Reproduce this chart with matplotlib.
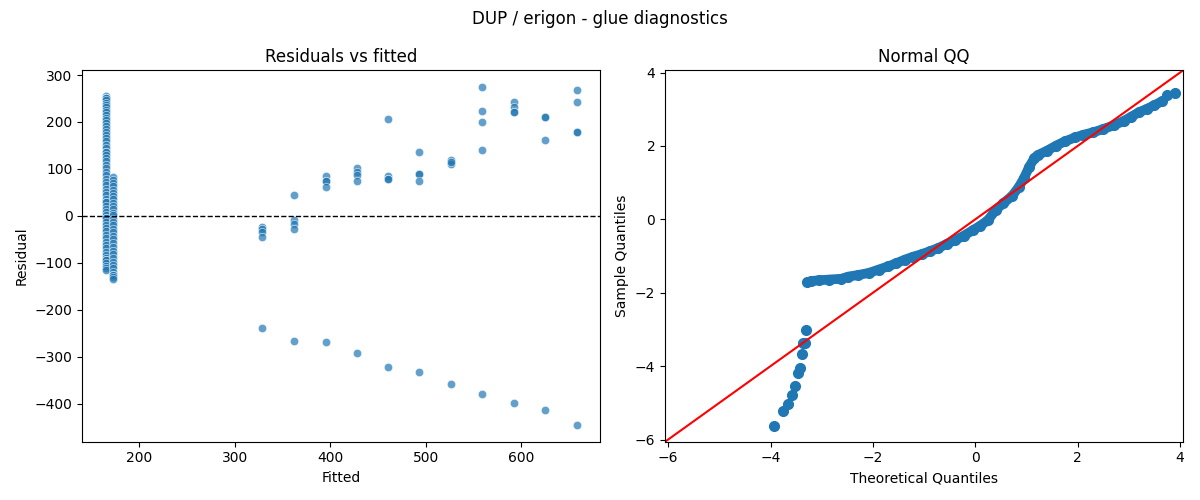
import matplotlib
matplotlib.use("Agg")
import matplotlib.pyplot as plt
import seaborn as sns

# residuals vs fitted: the two dense columns on the left
col_a_fitted = 165
col_a_resid = [255, 252, 250, 250, 246, 241, 237, 232, 226, 221, 215, 209, 204, 198, 191,
               185, 179, 172, 166, 159, 151, 144, 137, 136, 130, 123, 116, 109, 101, 94,
               87, 79, 72, 65, 58, 51, 44, 37, 30, 30, 22, 15, 8, 1, -5, -5, -12, -19,
               -26, -33, -40, -47, -55, -62, -69, -76, -83, -90, -95, -95, -101, -107, -112, -116]
col_b_fitted = 172
col_b_resid = [82, 76, 70, 63, 56, 49, 42, 35, 28, 21, 14, 7, 1, -6, -13, -20, -27, -34,
               -42, -50, -58, -66, -74, -82, -90, -98, -105, -112, -119, -125, -125, -130, -135]

# grouped points further right
group_fitted = [329, 362, 395, 428, 460, 493, 526, 559, 592, 625, 658]
group_upper = [
    [-23, -28, -35, -45],
    [44, -9, -17, -28],
    [85, 75, 75, 61],
    [101, 94, 87, 75],
    [206, 85, 79, 79],
    [135, 89, 89, 75],
    [119, 111, 115],
    [274, 223, 199, 140],
    [242, 232, 221, 221],
    [210, 210, 161],
    [269, 242, 178, 178],
]
group_lower = [-239, -266, -269, -292, -321, -332, -358, -379, -398, -413, -445]

# normal QQ
qq_tail_x = [-3.94, -3.76, -3.66, -3.58, -3.53, -3.47, -3.42, -3.39, -3.36, -3.33, -3.31]
qq_tail_y = [-5.62, -5.23, -5.04, -4.79, -4.53, -4.20, -4.05, -3.67, -3.38, -3.36, -3.01]
qq_body_x = [-3.28, -3.20, -3.05, -2.85, -2.62, -2.48, -2.30, -2.08, -1.89, -1.70, -1.55,
             -1.38, -1.22, -1.05, -0.89, -0.72, -0.56, -0.40, -0.23, -0.05, 0.10, 0.25,
             0.40, 0.55, 0.72, 0.85, 0.95, 1.05, 1.15, 1.22, 1.40, 1.58, 1.76, 1.95, 2.10,
             2.30, 2.50, 2.70, 2.90, 3.05, 3.20, 3.35, 3.50, 3.65]
qq_body_y = [-1.72, -1.68, -1.66, -1.64, -1.62, -1.56, -1.52, -1.46, -1.37, -1.28, -1.20,
             -1.10, -1.02, -0.95, -0.87, -0.78, -0.67, -0.57, -0.45, -0.30, -0.17, -0.02,
             0.26, 0.44, 0.64, 0.88, 1.12, 1.42, 1.66, 1.75, 1.87, 2.01, 2.13, 2.23, 2.30,
             2.37, 2.46, 2.56, 2.68, 2.80, 2.92, 3.01, 3.11, 3.22]
qq_top_x = [3.75, 3.91]
qq_top_y = [3.39, 3.44]
qq_lims = (-6.06, 4.06)

fitted = [col_a_fitted] * len(col_a_resid) + [col_b_fitted] * len(col_b_resid)
resid = col_a_resid + col_b_resid
for f, ups, low in zip(group_fitted, group_upper, group_lower):
    fitted += [f] * (len(ups) + 1)
    resid += ups + [low]

fig, axes = plt.subplots(1, 2, figsize=(12, 5))

ax = axes[0]
sns.scatterplot(x=fitted, y=resid, ax=ax, alpha=0.7)
ax.axhline(0, color="black", linestyle="--", linewidth=1)
ax.set_title("Residuals vs fitted")
ax.set_xlabel("Fitted")
ax.set_ylabel("Residual")

ax = axes[1]
c = "#1f77b4"
ax.plot(qq_body_x, qq_body_y, "-", color=c, linewidth=7, solid_capstyle="round")
ax.plot(qq_body_x, qq_body_y, "o", color=c, markersize=7)
ax.plot(qq_tail_x, qq_tail_y, "o", color=c, markersize=7)
ax.plot(qq_top_x, qq_top_y, "o", color=c, markersize=7)
ax.plot(qq_lims, qq_lims, "r-")
ax.set_xlim(qq_lims)
ax.set_ylim(qq_lims)
ax.set_title("Normal QQ")
ax.set_xlabel("Theoretical Quantiles")
ax.set_ylabel("Sample Quantiles")

fig.suptitle("DUP / erigon - glue diagnostics")
fig.tight_layout()
fig.savefig("out.png", dpi=100)
